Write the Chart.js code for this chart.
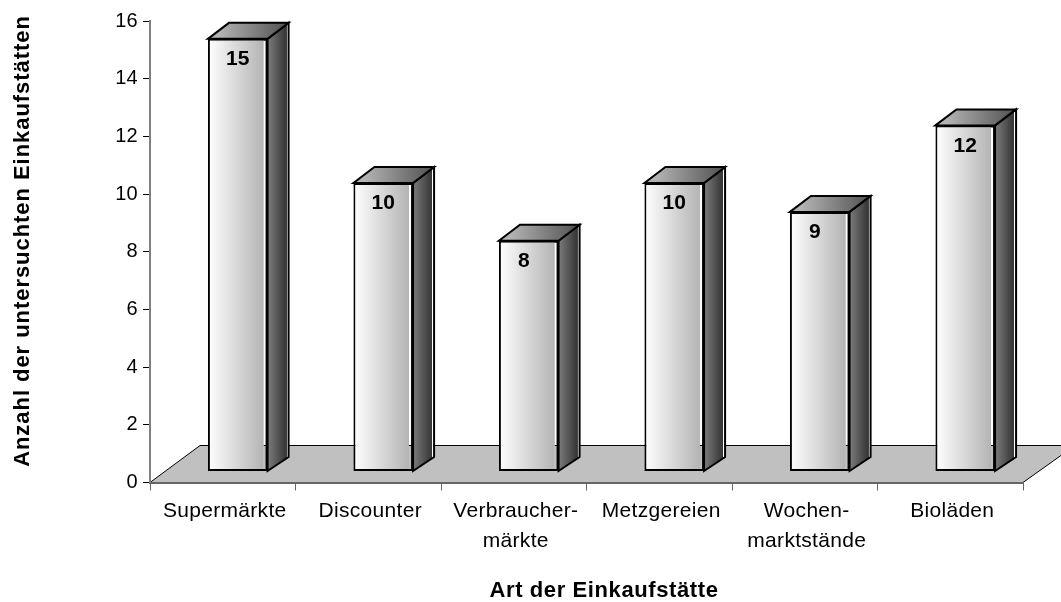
<!DOCTYPE html>
<html>
<head>
<meta charset="utf-8">
<style>
    html, body { margin: 0; padding: 0; background: #fff; }
    #wrap { width: 1061px; height: 602px; }
</style>
<script src="https://cdn.jsdelivr.net/npm/chart.js@4/dist/chart.umd.min.js"></script>
</head>
<body>
<div id="wrap"><canvas id="chart"></canvas></div>
<script>
const categories = ['Supermärkte', 'Discounter', ['Verbraucher-', 'märkte'], 'Metzgereien', ['Wochen-', 'marktstände'], 'Bioläden'];
const values = [15, 10, 8, 10, 9, 12];
const yTicks = [0, 2, 4, 6, 8, 10, 12, 14, 16];
const yTitle = 'Anzahl der untersuchten Einkaufstätten';
const xTitle = 'Art der Einkaufstätte';

const FONT = '"Liberation Sans", Arial, sans-serif';
// shift of the bars off the axis plane, and depth of the fake 3d boxes
const shiftX = 15, shiftY = 11;
const depthX = 21, depthTop = 16, depthBottom = 14;
const BAR_SHARE = 0.41;

function hGradient(ctx, x0, x1, stops) {
    const g = ctx.createLinearGradient(x0, 0, x1, 0);
    stops.forEach(s => g.addColorStop(s[0], s[1]));
    return g;
}

function polygon(ctx, pts, fill) {
    ctx.beginPath();
    pts.forEach((p, i) => i ? ctx.lineTo(p[0], p[1]) : ctx.moveTo(p[0], p[1]));
    ctx.closePath();
    ctx.fillStyle = fill;
    ctx.fill();
    ctx.stroke();
}

const floorPlugin = {
    id: 'floor',
    beforeDraw(chart) {
        const { ctx, chartArea: a } = chart;
        const bottom = a.bottom;
        // tick labels are spaced a little wider in the original
        ctx.letterSpacing = '0.3px';
        ctx.save();
        ctx.beginPath();
        ctx.moveTo(a.left, bottom);
        ctx.lineTo(a.left + 50, bottom - 37);
        ctx.lineTo(a.right + 52, bottom - 37);
        ctx.lineTo(a.right, bottom);
        ctx.closePath();
        ctx.fillStyle = '#c0c0c0';
        ctx.fill();
        ctx.strokeStyle = '#000';
        ctx.lineWidth = 1;
        ctx.stroke();
        ctx.restore();
    }
};

const boxPlugin = {
    id: 'box',
    beforeDatasetDraw(chart) {
        const ctx = chart.ctx;
        ctx.save();
        ctx.strokeStyle = '#000';
        ctx.lineWidth = 2;
        ctx.lineJoin = 'miter';
        ctx.translate(shiftX, -shiftY);
        chart.getDatasetMeta(0).data.forEach(bar => {
            const l = bar.x - bar.width / 2, r = bar.x + bar.width / 2;
            const sideFill = hGradient(ctx, r, r + depthX, [[0, '#7c7c7c'], [0.85, '#383838'], [0.9, '#383838'], [0.92, '#fff'], [1, '#fff']]);
            polygon(ctx, [[r, bar.y], [r + depthX, bar.y - depthTop], [r + depthX, bar.base - depthBottom], [r, bar.base]], sideFill);
            const topFill = hGradient(ctx, l + depthX / 2, r + depthX, [[0, '#b4b4b4'], [1, '#505050']]);
            polygon(ctx, [[l, bar.y], [l + depthX, bar.y - depthTop], [r + depthX, bar.y - depthTop], [r, bar.y]], topFill);
        });
        // stays translated while the library draws the front faces
    },
    afterDatasetDraw(chart) {
        const ctx = chart.ctx;
        ctx.fillStyle = '#000';
        ctx.font = 'bold 21px ' + FONT;
        ctx.textAlign = 'center';
        ctx.textBaseline = 'middle';
        ctx.letterSpacing = '0px';
        chart.getDatasetMeta(0).data.forEach((bar, i) => {
            // single digits sit left of centre in the original
            const nudge = String(values[i]).length === 1 ? -5 : 0;
            ctx.fillText(values[i], bar.x + nudge, bar.y + 20.5);
        });
        ctx.restore();
    },
    afterDraw(chart) {
        const ctx = chart.ctx;
        ctx.save();
        ctx.fillStyle = '#000';
        ctx.font = 'bold 22px ' + FONT;
        ctx.textAlign = 'center';
        ctx.textBaseline = 'alphabetic';
        ctx.letterSpacing = '0.6px';
        ctx.fillText(xTitle, 604, 597);
        ctx.letterSpacing = '0.95px';
        ctx.translate(29, 241);
        ctx.rotate(-Math.PI / 2);
        ctx.fillText(yTitle, 0, 0);
        ctx.restore();
    }
};

new Chart(document.getElementById('chart'), {
    type: 'bar',
    data: {
        labels: categories,
        datasets: [{
            data: values,
            barPercentage: BAR_SHARE,
            categoryPercentage: 1,
            borderWidth: 2,
            borderColor: '#000',
            borderSkipped: false,
            backgroundColor: function (c) {
                const sc = c.chart.scales.x;
                if (!sc || c.dataIndex === undefined) return '#ccc';
                const mid = sc.getPixelForValue(c.dataIndex);
                if (!Number.isFinite(mid)) return '#ccc';
                const half = sc.width / categories.length * BAR_SHARE / 2;
                return hGradient(c.chart.ctx, mid - half, mid + half, [[0, '#fff'], [0.93, '#b4b4b4'], [0.94, 'rgba(255,255,255,0)'], [1, 'rgba(255,255,255,0)']]);
            }
        }]
    },
    options: {
        responsive: true,
        maintainAspectRatio: false,
        animation: false,
        layout: { padding: { top: 21, right: 38, left: 0, bottom: 0 } },
        plugins: { legend: { display: false }, tooltip: { enabled: false } },
        scales: {
            x: {
                afterFit: s => { s.height = 119.5; },
                border: { color: '#666', width: 2 },
                grid: { drawOnChartArea: false, tickLength: 8, tickColor: '#666', offset: true },
                ticks: { color: '#000', font: { family: FONT, size: 21, lineHeight: 1.43 }, padding: 6, labelOffset: 2, maxRotation: 0, autoSkip: false }
            },
            y: {
                min: 0,
                max: 16,
                afterFit: s => { s.width = 150; },
                afterBuildTicks: s => { s.ticks = yTicks.map(v => ({ value: v })); },
                border: { color: '#808080', width: 2 },
                grid: { drawOnChartArea: false, tickLength: 7, tickColor: '#000' },
                ticks: { color: '#000', font: { family: FONT, size: 20 }, padding: 5 }
            }
        }
    },
    plugins: [floorPlugin, boxPlugin]
});
</script>
</body>
</html>
